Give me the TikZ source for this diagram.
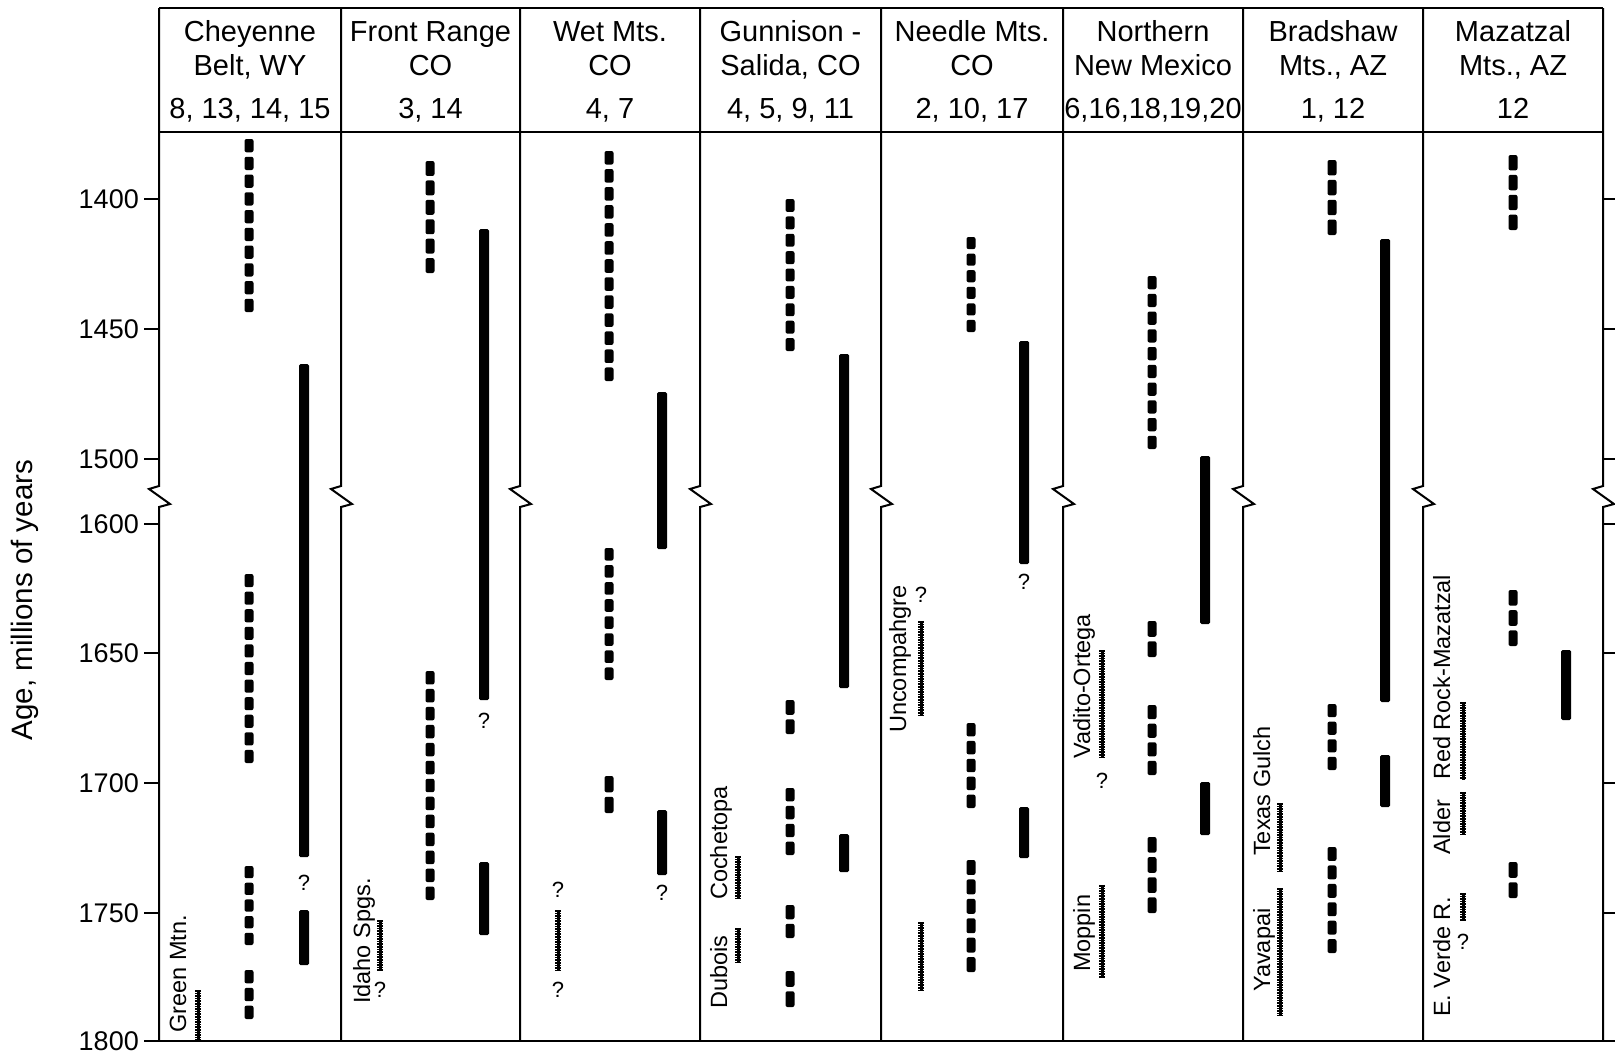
\documentclass[tikz,border=0pt]{standalone}
\usepackage{fontspec}
\setmainfont{Liberation Sans}
\newcommand\dashedbar[3]{%
  \pgfmathsetmacro\dbLen{#3-#2+4.5}%
  \pgfmathtruncatemacro\dbN{max(1,round(\dbLen/18))}%
  \pgfmathsetmacro\dbPer{\dbLen/\dbN}%
  \foreach \dbI in {1,...,\dbN}{%
    \fill[dashseg] ({#1-4.5},{#2+(\dbI-1)*\dbPer}) rectangle ({#1+4.5},{#2+\dbI*\dbPer-4.5});
  }%
}
\newcommand\solidbar[3]{\fill[sbar] ({#1-5},#2) rectangle ({#1+5},#3);}
\newcommand\hatchbar[3]{\draw[hatchcore] (#1,#2) -- (#1,#3); \draw[hatch] (#1,#2) -- (#1,#3);}
\begin{document}
\begin{tikzpicture}[x=1pt,y=-1pt,
  frame/.style={line width=2.2pt},
  divider/.style={line width=2pt, line join=miter},
  tickmark/.style={line width=2pt},
  sbar/.style={fill=black, rounded corners=1.5pt},
  dashseg/.style={fill=black, rounded corners=2pt},
  hatchcore/.style={line width=3pt},
  hatch/.style={line width=6.5pt, dash pattern=on 1.6pt off 1pt},
  head/.style={font=\fontsize{29}{29}\selectfont, inner sep=0pt, anchor=base},
  axnum/.style={font=\fontsize{27}{27}\selectfont, inner sep=0pt, anchor=east},
  unit/.style={font=\fontsize{23.5}{23.5}\selectfont, inner sep=0pt, rotate=90, anchor=base west},
  qmark/.style={font=\fontsize{22}{22}\selectfont, inner sep=0pt}
]
\useasboundingbox (0,0) rectangle (1615,1061);
% frame
\draw[frame] (159,8) -- (1603,8);
\draw[frame] (159,132) -- (1603,132);
\draw[frame] (144,1041) -- (1615,1041);
\foreach \X in {159,341,520,700,881,1063,1243,1423,1603}{
  \draw[divider] (\X,8) -- (\X,486) -- ({\X-10},489) -- ({\X+11},504) -- (\X,507) -- (\X,1041);
}
% ticks
\foreach \Y/\A in {199/1400,329/1450,459/1500,524/1600,653/1650,783/1700,913/1750,1041/1800}{
  \draw[tickmark] (144,\Y) -- (159,\Y);
  \node[axnum] (ax\A) at (139,\Y) {\A};
}
\foreach \Y in {199,329,459,524,653,783,913}{
  \draw[tickmark] (1603,\Y) -- (1615,\Y);
}
\node[font=\fontsize{29.5}{29.5}\selectfont, rotate=90, inner sep=0pt] (axis) at (25,600) {Age, millions of years};
% headers
\foreach \cx/\la/\lb/\lc [count=\i] in {
  250/Cheyenne/{Belt, WY}/{8, 13, 14, 15},
  430.5/Front Range/CO/{3, 14},
  610/Wet Mts./CO/{4, 7},
  790.5/Gunnison -/{Salida, CO}/{4, 5, 9, 11},
  972/Needle Mts./CO/{2, 10, 17},
  1153/Northern/New Mexico/{6,16,18,19,20},
  1333/Bradshaw/{Mts., AZ}/{1, 12},
  1513/Mazatzal/{Mts., AZ}/12}{
  \node[head] (ha\i) at (\cx,41) {\la};
  \node[head] (hb\i) at (\cx,75) {\lb};
  \node[head] (hc\i) at (\cx,118) {\lc};
}
% column 1 Cheyenne
\hatchbar{198}{990}{1041}
\dashedbar{249}{139}{312}
\dashedbar{249}{574}{763}
\dashedbar{249}{866}{945}
\dashedbar{249}{970}{1019}
\solidbar{304}{364}{857}
\solidbar{304}{910}{965}
\node[qmark] (q1) at (304,883) {?};
\node[unit] (green) at (186,1033) {Green Mtn.};
% column 2 Front Range
\hatchbar{380}{920}{971}
\node[qmark] (q2) at (380,990) {?};
\node[unit] (idaho) at (370,1004) {Idaho Spgs.};
\dashedbar{430}{161}{273}
\dashedbar{430}{671}{900}
\solidbar{484}{229}{700}
\solidbar{484}{862}{935}
\node[qmark] (q3) at (484,721) {?};
% column 3 Wet Mts
\hatchbar{558}{910}{970}
\node[qmark] (q4) at (558,890) {?};
\node[qmark] (q5) at (558,990) {?};
\dashedbar{609}{151}{381}
\dashedbar{609}{548}{680}
\dashedbar{609}{776}{813}
\solidbar{662}{392}{549}
\solidbar{662}{810}{875}
\node[qmark] (q6) at (662,893) {?};
% column 4 Gunnison
\hatchbar{738}{928}{962}
\hatchbar{738}{856}{899}
\node[unit] (dubois) at (727,1009) {Dubois};
\node[unit] (cochetopa) at (727,900) {Cochetopa};
\dashedbar{790}{199}{351}
\dashedbar{790}{700}{734}
\dashedbar{790}{788}{855}
\dashedbar{790}{905}{938}
\dashedbar{790}{971}{1007}
\solidbar{844}{354}{688}
\solidbar{844}{834}{872}
% column 5 Needle Mts
\hatchbar{921}{621}{715}
\hatchbar{921}{922}{990}
\node[qmark] (q7) at (921,595) {?};
\node[unit] (uncomp) at (906,733) {Uncompahgre};
\dashedbar{971}{237}{332}
\dashedbar{971}{723}{808}
\dashedbar{971}{860}{972}
\solidbar{1024}{341}{564}
\solidbar{1024}{807}{858}
\node[qmark] (q8) at (1024,582) {?};
% column 6 Northern New Mexico
\hatchbar{1102}{650}{758}
\node[qmark] (q9) at (1102,781) {?};
\hatchbar{1102}{885}{978}
\node[unit] (vadito) at (1090,759) {Vadito-Ortega};
\node[unit] (moppin) at (1090,972) {Moppin};
\dashedbar{1152}{276}{449}
\dashedbar{1152}{621}{657}
\dashedbar{1152}{705}{775}
\dashedbar{1152}{837}{913}
\solidbar{1205}{456}{624}
\solidbar{1205}{782}{835}
% column 7 Bradshaw
\hatchbar{1280}{888}{1016}
\hatchbar{1280}{803}{872}
\node[unit] (yavapai) at (1270,992) {Yavapai};
\node[unit] (texas) at (1270,856) {Texas Gulch};
\dashedbar{1332}{160}{235}
\dashedbar{1332}{704}{770}
\dashedbar{1332}{847}{953}
\solidbar{1385}{239}{702}
\solidbar{1385}{755}{807}
% column 8 Mazatzal
\hatchbar{1463}{893}{921}
\node[qmark] (q10) at (1463,942) {?};
\hatchbar{1463}{792}{834}
\hatchbar{1463}{702}{780}
\node[unit] (verde) at (1450,1017) {E. Verde R.};
\node[unit] (alder) at (1450,855) {Alder};
\node[unit] (redrock) at (1450,780) {Red Rock-Mazatzal};
\dashedbar{1513}{155}{230}
\dashedbar{1513}{590}{646}
\dashedbar{1513}{862}{898}
\solidbar{1566}{650}{720}
\end{tikzpicture}
\end{document}
